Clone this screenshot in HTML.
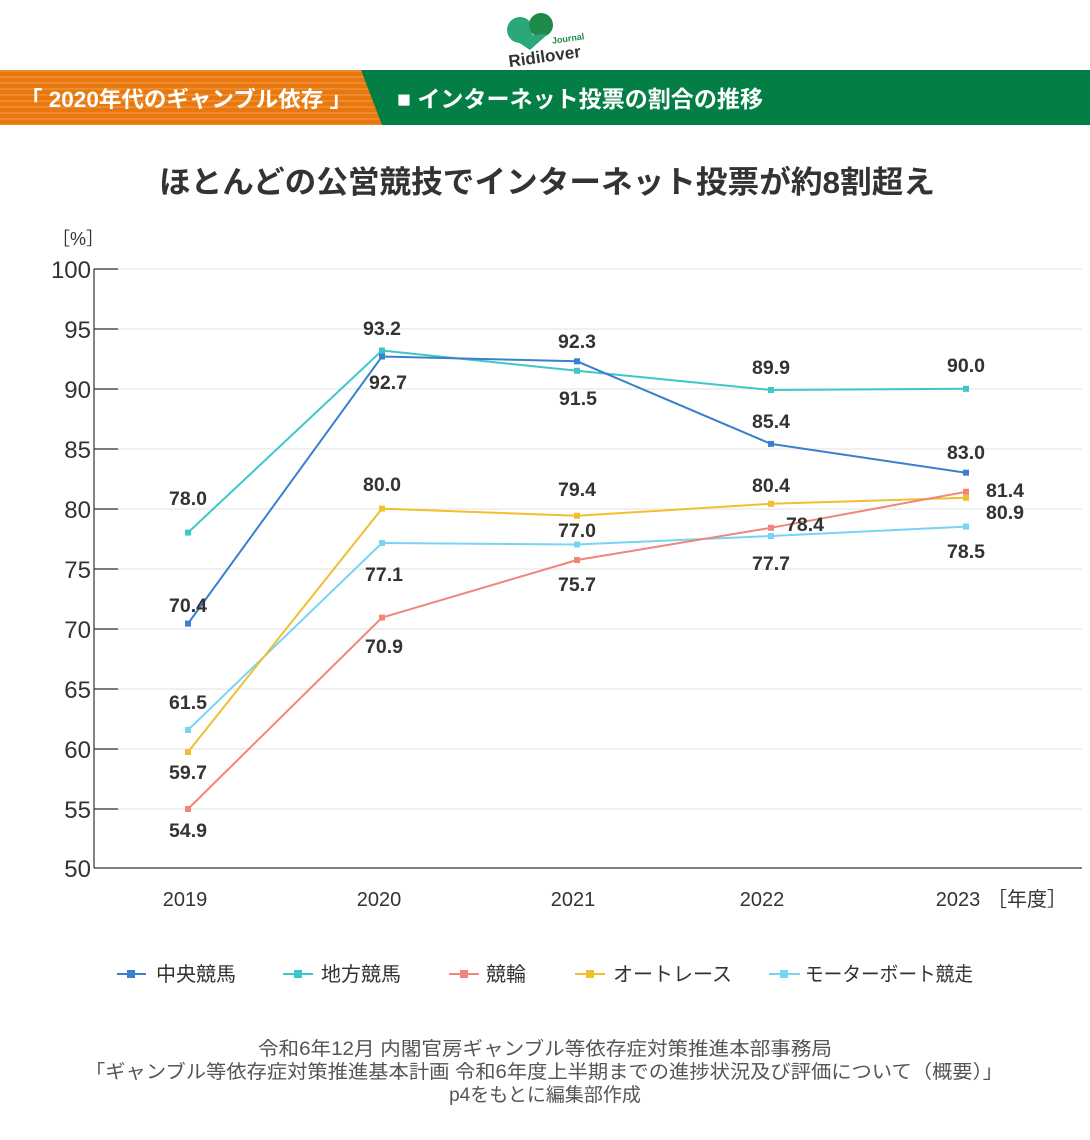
<!DOCTYPE html>
<html><head><meta charset="utf-8"><style>
body{margin:0;background:#fff;}
svg{display:block;font-family:"Liberation Sans","Noto Sans CJK JP",sans-serif;}
</style></head><body>
<svg width="1090" height="1140" viewBox="0 0 1090 1140" xmlns="http://www.w3.org/2000/svg">
<defs>
<pattern id="st" width="10" height="6" patternUnits="userSpaceOnUse"><rect width="10" height="6" fill="#e8780e"/><rect y="4.5" width="10" height="1" fill="#f0a050"/></pattern>
</defs>
<circle cx="520" cy="30" r="13" fill="#2aa87a"/>
<circle cx="541" cy="25" r="12" fill="#1e8a4a"/>
<path d="M509 36 L530 50 L548 34 Z" fill="#2aa87a"/>
<text x="508" y="62" font-size="17" font-weight="bold" fill="#333" transform="rotate(-8 545 55)">Ridilover</text>
<text x="552" y="42" font-size="9" font-weight="bold" fill="#1e8a4a" transform="rotate(-8 565 40)">Journal</text>
<rect x="0" y="70" width="1090" height="55" fill="#037f46"/>
<polygon points="0,70 361,70 382,125 0,125" fill="url(#st)"/>
<text x="20" y="107" font-size="22" font-weight="bold" fill="#fff" textLength="332" lengthAdjust="spacingAndGlyphs">「 2020年代のギャンブル依存 」</text>
<text x="397" y="107" font-size="23" font-weight="bold" fill="#fff" textLength="366" lengthAdjust="spacingAndGlyphs">■ インターネット投票の割合の推移</text>
<text x="547" y="193" font-size="31" font-weight="bold" fill="#333" text-anchor="middle" textLength="776" lengthAdjust="spacingAndGlyphs">ほとんどの公営競技でインターネット投票が約8割超え</text>
<text x="52" y="245" font-size="18" fill="#333">［%］</text>
<g stroke="#ececec" stroke-width="1.5">
<line x1="94" x2="1082" y1="329" y2="329"/><line x1="94" x2="1082" y1="389" y2="389"/>
<line x1="94" x2="1082" y1="449" y2="449"/><line x1="94" x2="1082" y1="509" y2="509"/>
<line x1="94" x2="1082" y1="569" y2="569"/><line x1="94" x2="1082" y1="629" y2="629"/>
<line x1="94" x2="1082" y1="689" y2="689"/><line x1="94" x2="1082" y1="749" y2="749"/>
<line x1="94" x2="1082" y1="809" y2="809"/><line x1="94" x2="1082" y1="269" y2="269"/>
</g>
<g stroke="#333" stroke-width="1.2">
<line x1="94" x2="94" y1="269" y2="868"/><line x1="94" x2="1082" y1="868" y2="868"/>
<line x1="94" x2="118" y1="269" y2="269"/><line x1="94" x2="118" y1="329" y2="329"/><line x1="94" x2="118" y1="389" y2="389"/><line x1="94" x2="118" y1="449" y2="449"/><line x1="94" x2="118" y1="509" y2="509"/><line x1="94" x2="118" y1="569" y2="569"/><line x1="94" x2="118" y1="629" y2="629"/><line x1="94" x2="118" y1="689" y2="689"/><line x1="94" x2="118" y1="749" y2="749"/><line x1="94" x2="118" y1="809" y2="809"/>
</g>
<g font-size="24" fill="#333" text-anchor="end">
<text x="91" y="278">100</text><text x="91" y="338">95</text><text x="91" y="398">90</text><text x="91" y="458">85</text><text x="91" y="518">80</text><text x="91" y="578">75</text><text x="91" y="638">70</text><text x="91" y="698">65</text><text x="91" y="758">60</text><text x="91" y="818">55</text><text x="91" y="877">50</text>
</g>
<g font-size="20" fill="#333" text-anchor="middle">
<text x="185" y="906">2019</text><text x="379" y="906">2020</text><text x="573" y="906">2021</text><text x="762" y="906">2022</text><text x="958" y="906">2023</text>
</g>
<text x="987" y="906" font-size="20" fill="#333">［年度］</text>
<g fill="none" stroke-width="2">
<polyline stroke="#78d4f5" points="188,730 382,543 577,544.5 771,536 966,526.6"/>
<polyline stroke="#f0c030" points="188,752 382,508.6 577,515.8 771,503.8 966,497.8"/>
<polyline stroke="#f0857a" points="188,809 382,617.6 577,560 771,527.8 966,491.8"/>
<polyline stroke="#3cc8c8" points="188,532.6 382,350.5 577,370.8 771,390 966,388.8"/>
<polyline stroke="#3a7fd0" points="188,623.6 382,356.5 577,361.3 771,443.9 966,472.7"/>
</g>
<g>
<g fill="#78d4f5"><rect x="185" y="727" width="6" height="6"/><rect x="379" y="540" width="6" height="6"/><rect x="574" y="541.5" width="6" height="6"/><rect x="768" y="533" width="6" height="6"/><rect x="963" y="523.6" width="6" height="6"/></g>
<g fill="#f0c030"><rect x="185" y="749" width="6" height="6"/><rect x="379" y="505.6" width="6" height="6"/><rect x="574" y="512.8" width="6" height="6"/><rect x="768" y="500.8" width="6" height="6"/><rect x="963" y="494.8" width="6" height="6"/></g>
<g fill="#f0857a"><rect x="185" y="806" width="6" height="6"/><rect x="379" y="614.6" width="6" height="6"/><rect x="574" y="557" width="6" height="6"/><rect x="768" y="524.8" width="6" height="6"/><rect x="963" y="488.8" width="6" height="6"/></g>
<g fill="#3cc8c8"><rect x="185" y="529.6" width="6" height="6"/><rect x="379" y="347.5" width="6" height="6"/><rect x="574" y="367.8" width="6" height="6"/><rect x="768" y="387" width="6" height="6"/><rect x="963" y="385.8" width="6" height="6"/></g>
<g fill="#3a7fd0"><rect x="185" y="620.6" width="6" height="6"/><rect x="379" y="353.5" width="6" height="6"/><rect x="574" y="358.3" width="6" height="6"/><rect x="768" y="440.9" width="6" height="6"/><rect x="963" y="469.7" width="6" height="6"/></g>
</g>
<g font-size="19.5" font-weight="bold" fill="#333" text-anchor="middle">
<text x="188" y="505">78.0</text><text x="188" y="612">70.4</text><text x="188" y="709">61.5</text><text x="188" y="779">59.7</text><text x="188" y="837">54.9</text>
<text x="382" y="335">93.2</text><text x="388" y="389">92.7</text><text x="382" y="491">80.0</text><text x="384" y="581">77.1</text><text x="384" y="653">70.9</text>
<text x="577" y="348">92.3</text><text x="578" y="405">91.5</text><text x="577" y="496">79.4</text><text x="577" y="537">77.0</text><text x="577" y="591">75.7</text>
<text x="771" y="374">89.9</text><text x="771" y="428">85.4</text><text x="771" y="492">80.4</text><text x="805" y="531">78.4</text><text x="771" y="570">77.7</text>
<text x="966" y="372">90.0</text><text x="966" y="459">83.0</text><text x="1005" y="497">81.4</text><text x="1005" y="519">80.9</text><text x="966" y="558">78.5</text>
</g>
<g font-size="20" fill="#333">
<line x1="117" x2="146" y1="974" y2="974" stroke="#3a7fd0" stroke-width="2"/><rect x="127" y="970" width="8" height="8" fill="#3a7fd0"/><text x="156" y="981">中央競馬</text>
<line x1="283" x2="313" y1="974" y2="974" stroke="#3cc8c8" stroke-width="2"/><rect x="294" y="970" width="8" height="8" fill="#3cc8c8"/><text x="321" y="981">地方競馬</text>
<line x1="449" x2="479" y1="974" y2="974" stroke="#f0857a" stroke-width="2"/><rect x="460" y="970" width="8" height="8" fill="#f0857a"/><text x="486" y="981">競輪</text>
<line x1="575" x2="605" y1="974" y2="974" stroke="#f0c030" stroke-width="2"/><rect x="586" y="970" width="8" height="8" fill="#f0c030"/><text x="613" y="981">オートレース</text>
<line x1="769" x2="800" y1="974" y2="974" stroke="#78d4f5" stroke-width="2"/><rect x="780" y="970" width="8" height="8" fill="#78d4f5"/><text x="805" y="981" textLength="168" lengthAdjust="spacingAndGlyphs">モーターボート競走</text>
</g>
<g font-size="19" fill="#555" text-anchor="middle">
<text x="545" y="1055" textLength="574" lengthAdjust="spacingAndGlyphs">令和6年12月 内閣官房ギャンブル等依存症対策推進本部事務局</text>
<text x="544" y="1078" textLength="918" lengthAdjust="spacingAndGlyphs">「ギャンブル等依存症対策推進基本計画 令和6年度上半期までの進捗状況及び評価について（概要）」</text>
<text x="545" y="1101">p4をもとに編集部作成</text>
</g>
</svg>
</body></html>
